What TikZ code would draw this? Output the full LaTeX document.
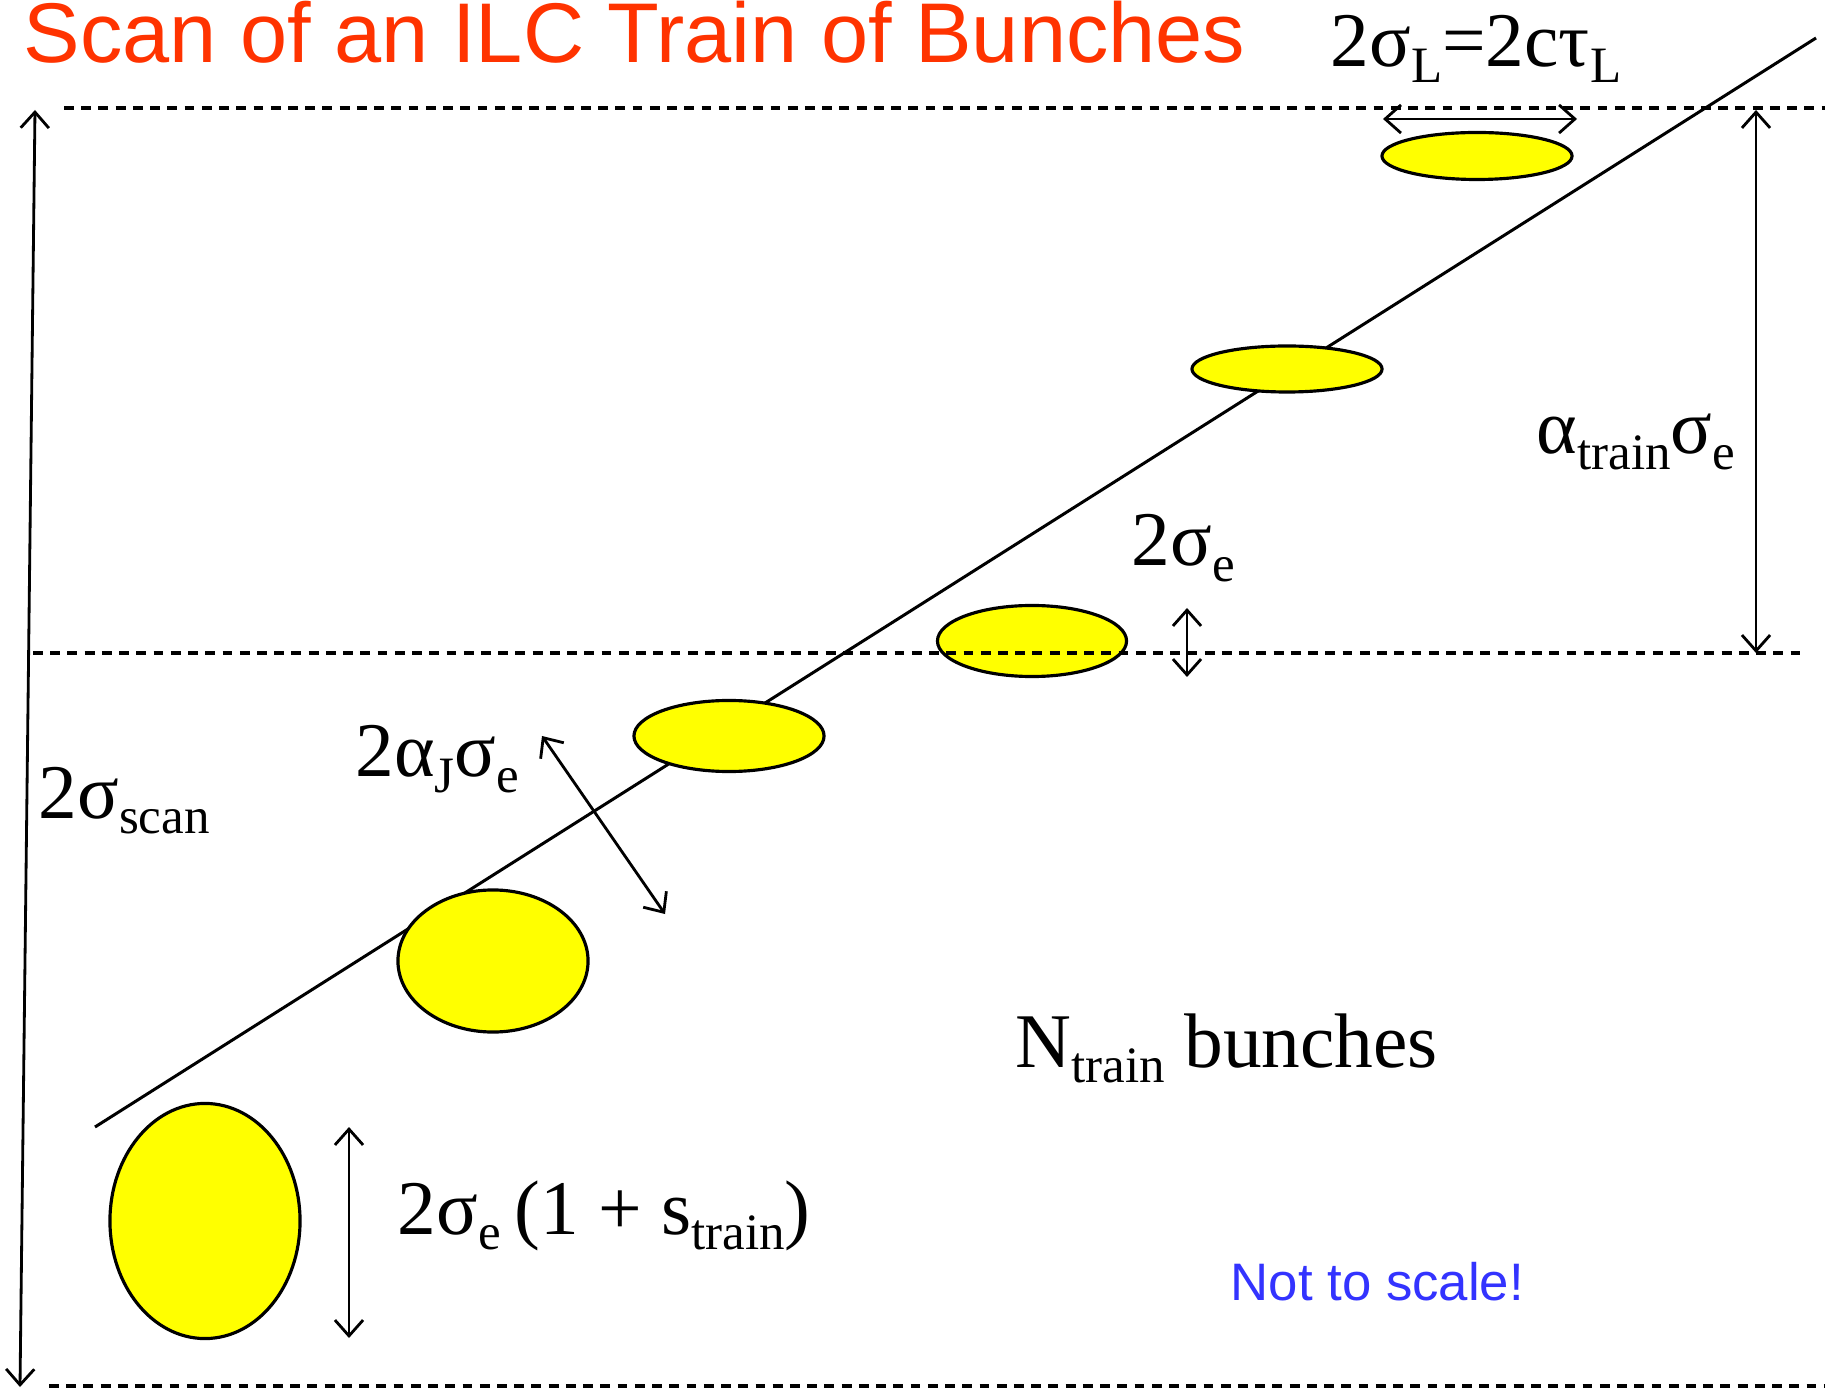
\documentclass[tikz,border=0pt]{standalone}
\usepackage{fontspec}
\setmainfont{Liberation Serif}
\newfontfamily\arialfont{Liberation Sans}
\usetikzlibrary{shapes.geometric,arrows.meta}
\definecolor{titlered}{HTML}{FF3300}
\definecolor{noteblue}{HTML}{3333FF}
\definecolor{bunchyellow}{HTML}{FFFF00}
\newcommand\sbx[1]{\raisebox{-0.2em}{\fontsize{14.5}{15}\selectfont #1}}
\tikzset{
  bunch/.style={ellipse, draw=black, line width=0.9pt, fill=bunchyellow, inner sep=0pt},
  guide/.style={line width=0.9pt, dash pattern=on 2.8pt off 2.1pt},
  dimarrow/.style={line width=0.8pt, {Straight Barb[length=4.5pt,width=8pt]}-{Straight Barb[length=4.5pt,width=8pt]}},
  lbl/.style={anchor=base west, inner sep=0pt, font=\fontsize{22}{24}\selectfont},
  axisline/.style={line width=0.85pt}
}
\begin{document}
\begin{tikzpicture}[x=0.01cm, y=-0.01cm]
\useasboundingbox (0,0) rectangle (1825,1389);
% main diagonal
\coordinate (d1) at (95,1127);
\coordinate (d2) at (1816,38);
\draw[axisline] (d1) -- (d2);
% bunches
\node[bunch, minimum width=1.90cm, minimum height=0.47cm] (e1) at (1477,156) {};
\node[bunch, minimum width=1.90cm, minimum height=0.46cm] (e2) at (1287,369) {};
\node[bunch, minimum width=1.89cm, minimum height=0.71cm] (e3) at (1032,641) {};
\node[bunch, minimum width=1.90cm, minimum height=0.71cm] (e4) at (729,736) {};
\node[bunch, minimum width=1.90cm, minimum height=1.42cm] (e5) at (493,961) {};
\node[bunch, minimum width=1.90cm, minimum height=2.35cm] (e6) at (205,1221) {};
% dashed guides
\coordinate (g1a) at (64,108);   \coordinate (g1b) at (1825,108);
\coordinate (g2a) at (33,653);   \coordinate (g2b) at (1804,653);
\coordinate (g3a) at (49,1386);  \coordinate (g3b) at (1825,1386);
\draw[guide] (g1a) -- (g1b);
\draw[guide] (g2a) -- (g2b);
\draw[guide] (g3a) -- (g3b);
% dimension arrows
\coordinate (a1a) at (35,110);   \coordinate (a1b) at (20,1387);
\draw[dimarrow] (a1a) -- (a1b);
\coordinate (a2a) at (1383,119); \coordinate (a2b) at (1577,119);
\draw[dimarrow] (a2a) -- (a2b);
\coordinate (a3a) at (1756,110); \coordinate (a3b) at (1756,653);
\draw[dimarrow] (a3a) -- (a3b);
\coordinate (a4a) at (1187,608); \coordinate (a4b) at (1187,677);
\draw[dimarrow] (a4a) -- (a4b);
\coordinate (a5a) at (542,736);  \coordinate (a5b) at (665,914);
\draw[dimarrow] (a5a) -- (a5b);
\coordinate (a6a) at (349,1127); \coordinate (a6b) at (349,1338);
\draw[dimarrow] (a6a) -- (a6b);
% labels
\node[anchor=base west, inner sep=0pt, text=titlered, font=\arialfont\fontsize{24.1}{26}\selectfont] (title) at (23,63) {Scan of an ILC Train of Bunches};
\node[lbl] (tL) at (1330,67) {2σ\sbx{L}=2cτ\sbx{L}};
\node[lbl] (tatrain) at (1536,454) {α\sbx{train}σ\sbx{e}};
\node[lbl] (tse) at (1131,566) {2σ\sbx{e}};
\node[lbl] (taj) at (355,777) {2α\sbx{J}σ\sbx{e}};
\node[lbl] (tscan) at (38,818) {2σ\sbx{scan}};
\node[lbl] (tN) at (1015,1067) {N\sbx{train} bunches};
\node[lbl] (tstrain) at (397,1234) {2σ\sbx{e}\hspace{0.18em}(1 + s\sbx{train})};
\node[anchor=base west, inner sep=0pt, text=noteblue, font=\arialfont\fontsize{15}{17}\selectfont] (note) at (1230,1300) {Not to scale!};
\end{tikzpicture}
\end{document}
